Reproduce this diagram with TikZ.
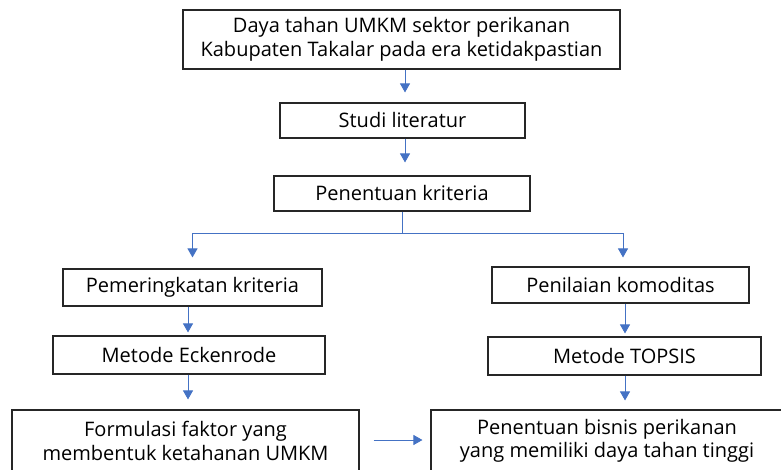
\documentclass[tikz,border=0pt]{standalone}
\usepackage{fontspec}
\setmainfont{Open Sans}
\usetikzlibrary{arrows.meta}
\definecolor{flowblue}{HTML}{4472C4}
\begin{document}
\begin{tikzpicture}[x=1pt,y=-1pt,
    box/.style = {draw=black!85,line width=1.1pt,rectangle,align=center,inner sep=0pt,
                  font=\fontsize{20}{23.5}\selectfont},
    flow/.style = {draw=flowblue,line width=0.9pt,-{Triangle[length=9pt,width=10pt]}}]

        \useasboundingbox (0,0) rectangle (781,470);

        % Problem statement
        \node [box,minimum width=437,minimum height=59] (daya) at (401.5,39.5)
            {Daya tahan UMKM sektor perikanan\\Kabupaten Takalar pada era ketidakpastian};

        % Literature and criteria
        \node [box,minimum width=245,minimum height=35] (studi) at (402.5,120.5) {Studi literatur};
        \node [box,minimum width=256,minimum height=35] (kriteria) at (402,193.5) {Penentuan kriteria};

        % Left branch
        \node [box,minimum width=259,minimum height=37] (rank) at (192.5,287.5) {Pemeringkatan kriteria};
        \node [box,minimum width=272,minimum height=38] (eck) at (189,355) {Metode Eckenrode};
        \node [box,minimum width=347,minimum height=62] (formula) at (185.5,441)
            {Formulasi faktor yang\\membentuk ketahanan UMKM};

        % Right branch
        \node [box,minimum width=257,minimum height=36] (nilai) at (620.5,285) {Penilaian komoditas};
        \node [box,minimum width=273,minimum height=38] (topsis) at (624.5,356) {Metode TOPSIS};
        \node [box,minimum width=352,minimum height=62] (bisnis) at (607,441)
            {Penentuan bisnis perikanan\\yang memiliki daya tahan tinggi};

        % Split point
        \coordinate (split) at (402,233);

        % Arrows
        \draw[flow,shorten >=10pt] (daya.south -| 405,0) -- (studi.north -| 405,0);
        \draw[flow,shorten >=13pt] (studi.south -| 405,0) -- (kriteria.north -| 405,0);
        \draw[flow,-] (kriteria.south -| split) -- (split);
        \draw[flow,shorten >=11pt] (split) -| (rank.north);
        \draw[flow,shorten >=9pt] (split) -| (nilai.north -| 623,0);
        \draw[flow,shorten >=3pt] (rank.south -| 188,0) -- (eck.north -| 188,0);
        \draw[flow,shorten >=3pt] (nilai.south -| 625,0) -- (topsis.north -| 625,0);
        \draw[flow,shorten >=10pt] (eck.south -| 188,0) -- (formula.north -| 188,0);
        \draw[flow,shorten >=9pt] (topsis.south -| 625,0) -- (bisnis.north -| 625,0);
        \draw[flow,shorten <=14pt,shorten >=8pt] (formula.east |- 0,440) -- (bisnis.west |- 0,440);

\end{tikzpicture}
\end{document}
